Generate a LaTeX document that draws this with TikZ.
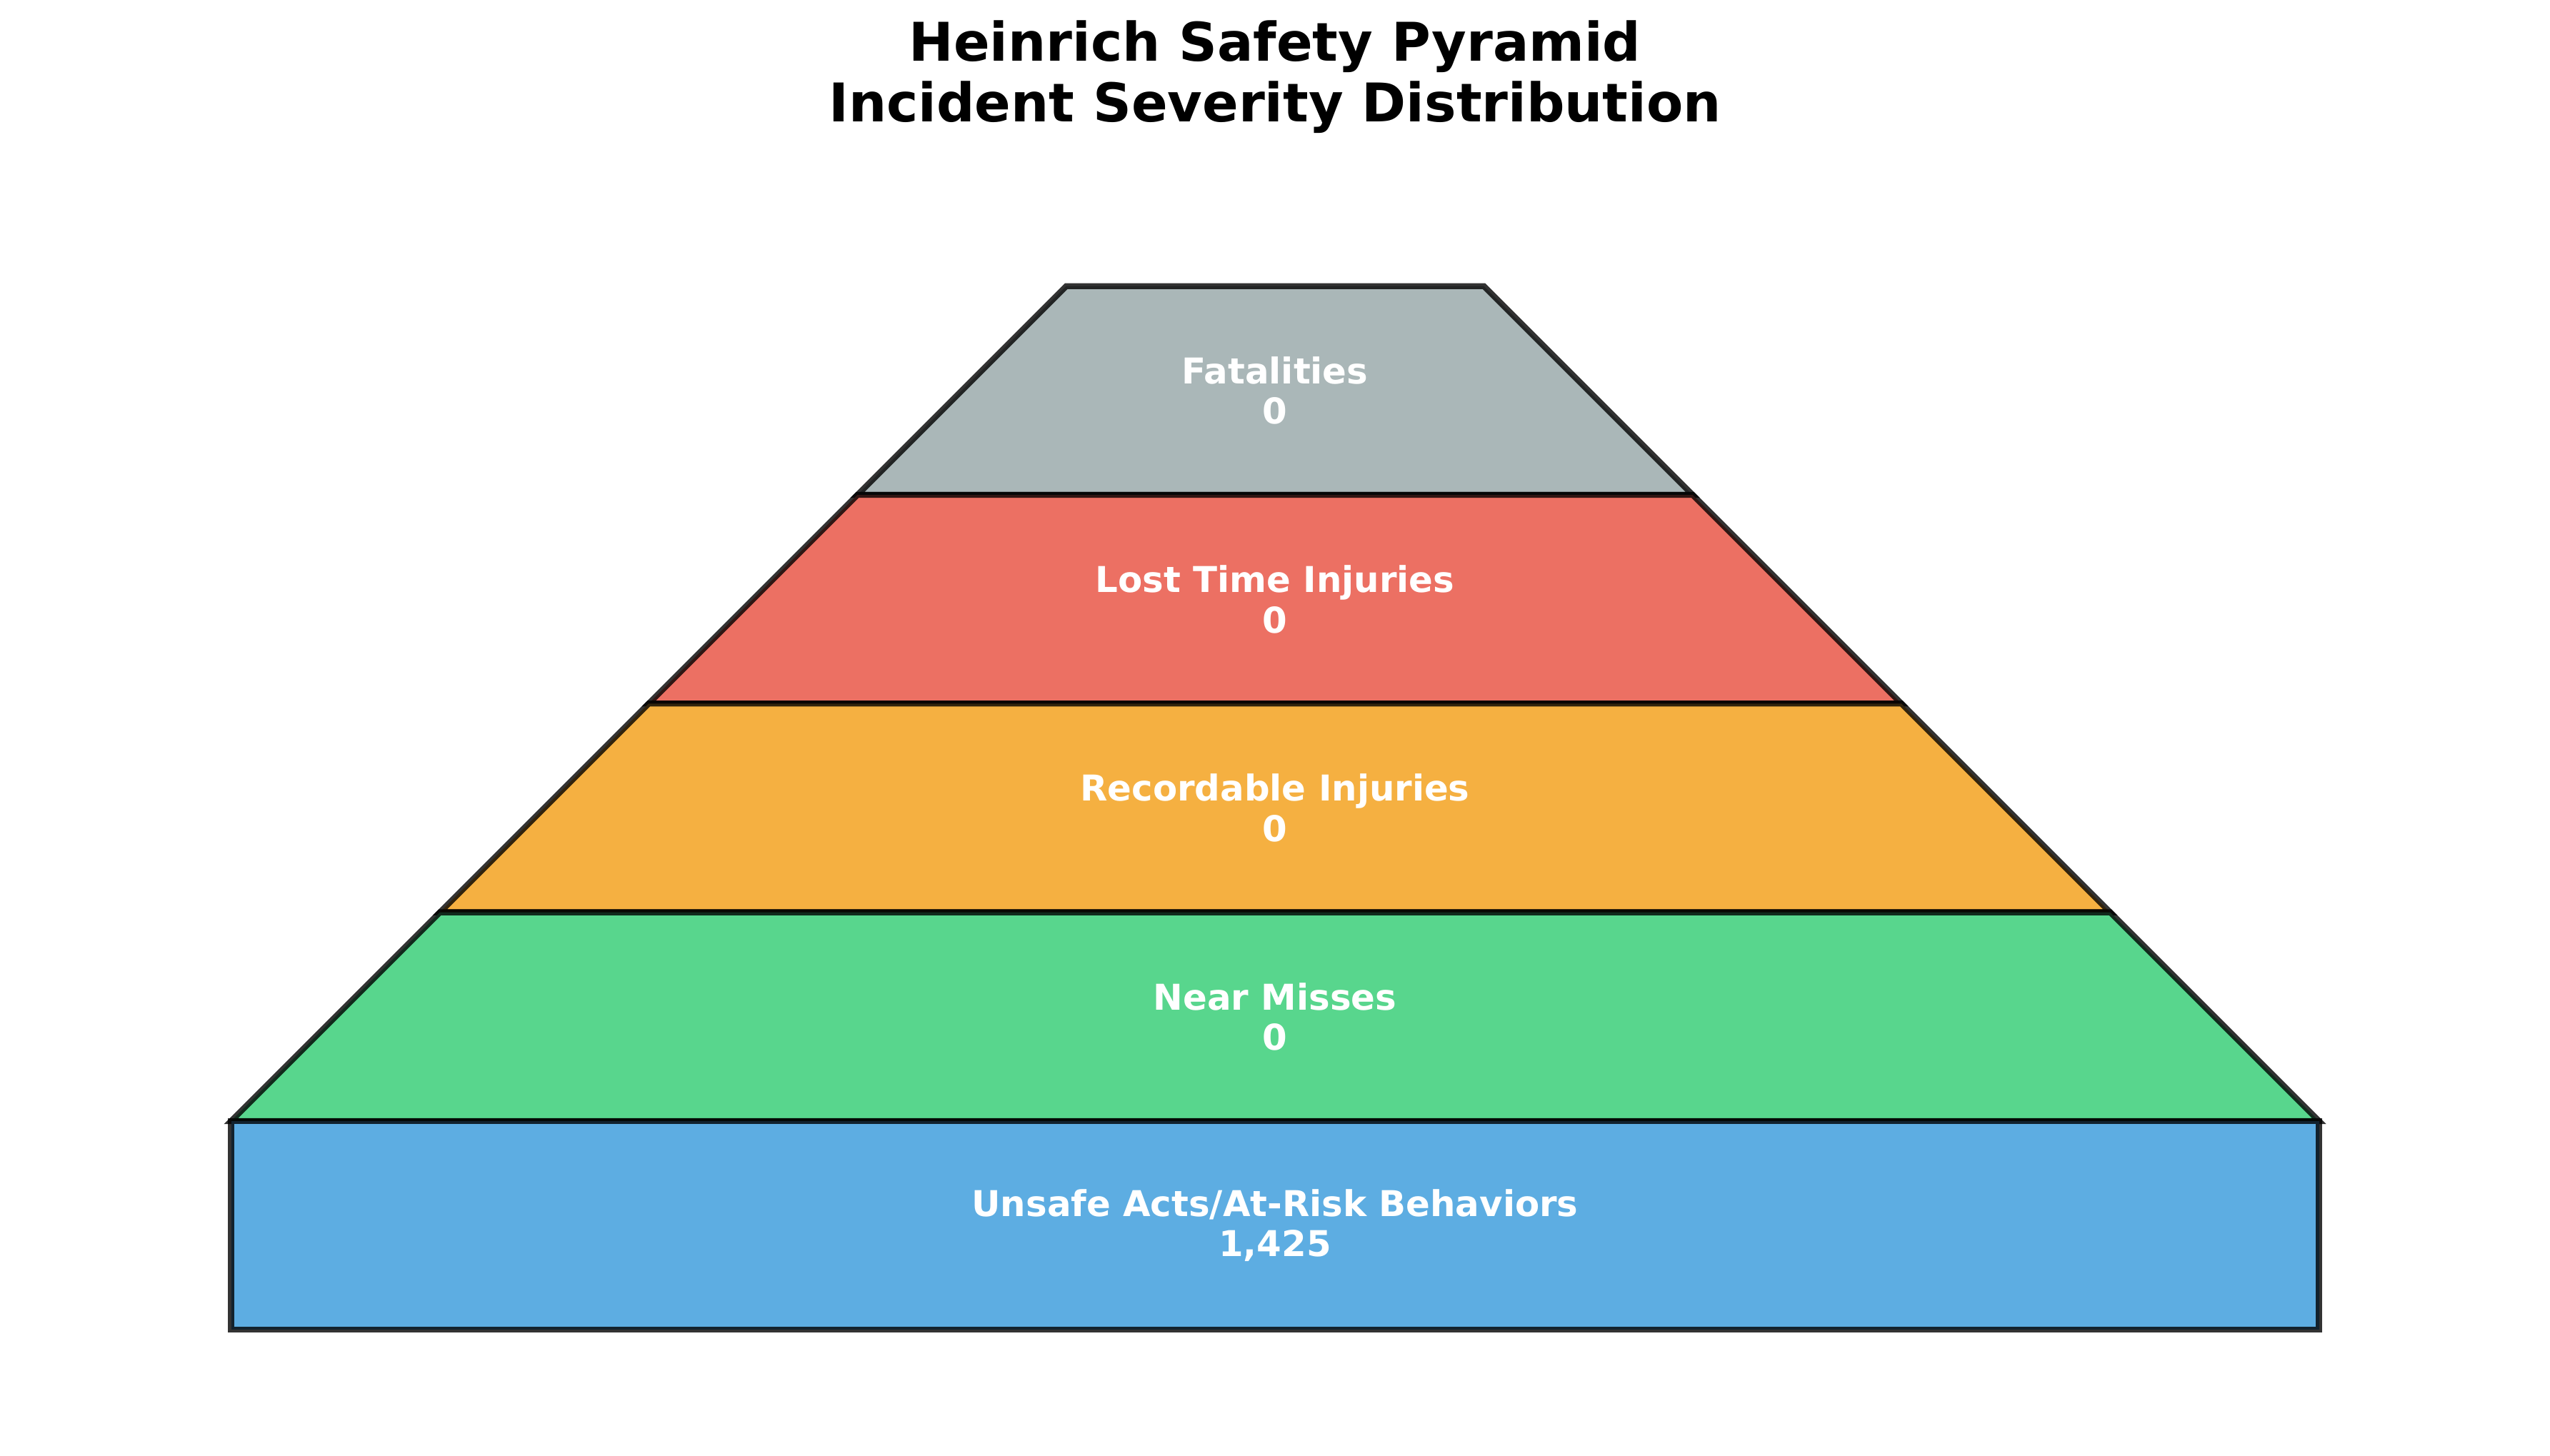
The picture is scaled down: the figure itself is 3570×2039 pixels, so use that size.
\documentclass[tikz,border=0pt]{standalone}
\usepackage{fontspec}
\setmainfont{DejaVu Sans}
\usepackage{xcolor}
\usepackage{tikz}
\usetikzlibrary{positioning}
\definecolor{fatalgray}{HTML}{AAB7B8}
\definecolor{lostred}{HTML}{EC7063}
\definecolor{recorange}{HTML}{F5B041}
\definecolor{neargreen}{HTML}{58D68D}
\definecolor{unsafeblue}{HTML}{5DADE2}

\begin{document}
\begin{tikzpicture}[
  x=0.2409pt, y=-0.2409pt,
  tier/.style={draw=black, draw opacity=0.8, line width=2pt, line join=miter},
  lbl/.style={text=white, font=\fontsize{12}{13.6}\selectfont\bfseries, align=center, inner sep=0pt},
  ttl/.style={font=\fontsize{18}{20.4}\selectfont\bfseries, align=center, inner sep=0pt}
]
  \useasboundingbox (0,0) rectangle (3570,2039);

  % Titolo
  \node[ttl] (title) at (1785,108) {Heinrich Safety Pyramid\\Incident Severity Distribution};

  % Livelli (dall'alto)
  \fill[fatalgray] (1492.7,400.7) -- (2077.3,400.7) -- (2369.6,693.0) -- (1200.4,693.0) -- cycle;
  \draw[tier] (1492.7,400.7) -- (2077.3,400.7) -- (2369.6,693.0) -- (1200.4,693.0) -- cycle;
  \fill[lostred] (1200.4,693.0) -- (2369.6,693.0) -- (2661.9,985.3) -- (908.1,985.3) -- cycle;
  \draw[tier] (1200.4,693.0) -- (2369.6,693.0) -- (2661.9,985.3) -- (908.1,985.3) -- cycle;
  \fill[recorange] (908.1,985.3) -- (2661.9,985.3) -- (2954.2,1277.6) -- (615.8,1277.6) -- cycle;
  \draw[tier] (908.1,985.3) -- (2661.9,985.3) -- (2954.2,1277.6) -- (615.8,1277.6) -- cycle;
  \fill[neargreen] (615.8,1277.6) -- (2954.2,1277.6) -- (3246.5,1569.9) -- (323.5,1569.9) -- cycle;
  \draw[tier] (615.8,1277.6) -- (2954.2,1277.6) -- (3246.5,1569.9) -- (323.5,1569.9) -- cycle;

  % Base
  \fill[unsafeblue] (323.5,1569.9) rectangle (3246.5,1862.2);
  \draw[tier] (323.5,1569.9) rectangle (3246.5,1862.2);

  % Etichette
  \node[lbl] (fatal) at (1785,546.9) {Fatalities\\0};
  \node[lbl] (lost) at (1785,839.2) {Lost Time Injuries\\0};
  \node[lbl] (rec) at (1785,1131.5) {Recordable Injuries\\0};
  \node[lbl] (near) at (1785,1423.8) {Near Misses\\0};
  \node[lbl] (unsafe) at (1785,1716.1) {Unsafe Acts/At-Risk Behaviors\\1,425};

\end{tikzpicture}
\end{document}
